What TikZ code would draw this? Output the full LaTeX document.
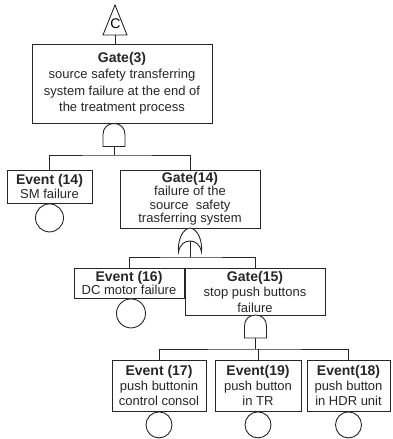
\documentclass[tikz,border=0pt]{standalone}
\usepackage{fontspec}
\setmainfont{Liberation Sans}
\newcommand\bxttl[1]{{\fontsize{14}{15}\selectfont\bfseries #1}}
\tikzset{
  ln/.style={line width=0.9pt, black!85},
  box/.style={draw, ln, inner sep=0pt, align=center, font=\fontsize{13}{15}\selectfont},
  evc/.style={draw, ln, circle, inner sep=0pt, anchor=north},
  andgate/.pic={
    \draw[ln, fill=white] (-11,23) -- (-11,11) .. controls (-11,4) and (-6,0) .. (0,0)
      .. controls (6,0) and (11,4) .. (11,11) -- (11,23) -- cycle;
    \coordinate (-top) at (0,0);
    \coordinate (-bot) at (0,23);
  },
  orgate/.pic={
    \draw[ln, fill=white] (-11.5,24) .. controls (-12.5,13) and (-8,1) .. (0,0)
      .. controls (8,1) and (12.5,13) .. (11.5,24)
      .. controls (10,16) and (5,13) .. (0,13)
      .. controls (-5,13) and (-10,16) .. (-11.5,24) -- cycle;
    \coordinate (-top) at (0,0);
    \coordinate (-bot) at (0,13);
  }
}
\begin{document}
\begin{tikzpicture}[x=1pt,y=-1pt]
\useasboundingbox (0,0) rectangle (393,439);
% transfer triangle
\draw[ln] (103,35) -- (115,5) -- (127,35) -- cycle;
\node[font=\fontsize{14}{15}\selectfont, inner sep=0pt] (tri) at (115.5,24) {C};
\coordinate (trib) at (115,35);

% boxes
\node[box, minimum width=180pt, minimum height=79pt, font=\fontsize{13}{16.5}\selectfont] (g3) at (122,83.5)
  {\bxttl{Gate(3)}\\source safety transferring\\system failure at the end of\\the treatment process};
\node[box, minimum width=85pt, minimum height=33pt, font=\fontsize{13}{14}\selectfont] (e14) at (49.5,186.5)
  {\bxttl{Event (14)}\\SM failure};
\node[box, minimum width=140pt, minimum height=58pt, font=\fontsize{13}{13.5}\selectfont] (g14) at (190,199)
  {\bxttl{Gate(14)}\\failure of the\\source~~safety\\trasferring system};
\node[box, minimum width=110pt, minimum height=30pt, font=\fontsize{13}{12.5}\selectfont] (e16) at (129,283)
  {\bxttl{Event (16)}\\DC motor failure};
\node[box, minimum width=140pt, minimum height=47pt, font=\fontsize{13}{15.5}\selectfont] (g15) at (255,291.5)
  {\bxttl{Gate(15)}\\stop push buttons\\failure};
\node[box, minimum width=94pt, minimum height=51pt] (e17) at (159,385.5)
  {\bxttl{Event (17)}\\push buttonin\\control consol};
\node[box, minimum width=86pt, minimum height=51pt] (e19) at (258,385.5)
  {\bxttl{Event(19)}\\push button\\in TR};
\node[box, minimum width=83pt, minimum height=51pt] (e18) at (348.5,385.5)
  {\bxttl{Event(18)}\\push button\\in HDR unit};

% basic event circles
\node[evc, minimum size=28pt] (c14) at (e14.south) {};
\node[evc, minimum size=29pt] (c16) at ([xshift=2pt]e16.south) {};
\node[evc, minimum size=26pt] (c17) at (e17.south) {};
\node[evc, minimum size=26pt] (c19) at (e19.south) {};
\node[evc, minimum size=26pt] (c18) at (e18.south) {};

% gates
\pic (ga) at (114,123.5) {andgate};
\pic (gb) at (190,228) {orgate};
\pic (gc) at (255.5,315) {andgate};

\coordinate (b1) at (114,155);
\coordinate (b2) at (190,257);
\coordinate (b3) at (255.5,349);

% connectors
\draw[ln] (trib) -- (trib |- g3.north);
\draw[ln] (ga-bot) -- (b1);
\draw[ln] (e14.north) |- (b1) -| (g14.north);
\draw[ln] (gb-bot) -- (b2);
\draw[ln] (e16.north) |- (b2) -| (g15.north);
\draw[ln] (gc-bot) -- (b3);
\draw[ln] (e17.north) |- (b3) -| (e18.north);
\draw[ln] (e19.north) -- (e19.north |- b3);
\end{tikzpicture}
\end{document}
